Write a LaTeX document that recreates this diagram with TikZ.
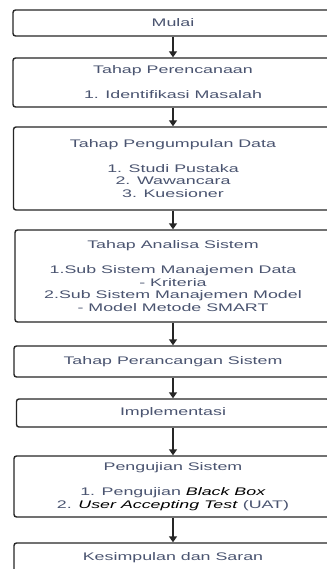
\documentclass[tikz,border=0pt]{standalone}
\usepackage{fontspec}
\usepackage{xcolor}
\usepackage{tikz}
\usetikzlibrary{arrows.meta}
\newfontfamily\boxfont[FakeStretch=1.62]{Liberation Sans}
\definecolor{teks}{HTML}{4A5470}

\begin{document}
\begin{tikzpicture}[x=1pt,y=-1pt,
tahap/.style={draw=black!85,line width=1.4pt,rounded corners=2.5pt,fill=white,align=center,
 inner sep=0pt,font=\boxfont\fontsize{11}{12.4}\selectfont,text=teks},
panah/.style={-{Triangle[width=8pt,length=6pt]},line width=1.4pt,black!85}]
\useasboundingbox (0,0) rectangle (326,569);
\node[tahap,minimum width=320,minimum height=26](mulai) at (173,23){Mulai};
\node[tahap,minimum width=320,minimum height=49](rencana) at (173,82.5){Tahap Perencanaan\\[12.6pt]
1. Identifikasi Masalah};
\node[tahap,minimum width=319,minimum height=83](kumpul) at (173,168.5){Tahap Pengumpulan Data\\[12.6pt]
1. Studi Pustaka\\2. Wawancara\\3. Kuesioner};
\node[tahap,minimum width=316,minimum height=92](analisa) at (173,276){Tahap Analisa Sistem\\[12.6pt]
1.Sub Sistem Manajemen Data\\- Kriteria\\2.Sub Sistem Manajemen Model\\- Model Metode SMART};
\node[tahap,minimum width=318,minimum height=31](rancang) at (173,361.5){Tahap Perancangan Sistem};
\node[tahap,minimum width=313,minimum height=28](implementasi) at (173,413){Implementasi};
\node[tahap,minimum width=318,minimum height=61](uji) at (173,486.5){Pengujian Sistem\\[12.6pt]
1. Pengujian \textcolor{black}{\textit{Black Box}}\\2. \textcolor{black}{\textit{User Accepting Test}} (UAT)};
\node[tahap,minimum width=318,minimum height=30](simpulan) at (173,558){Kesimpulan dan Saran};
% panah antar tahap
\draw[panah](mulai)--(rencana);
\draw[panah](rencana)--(kumpul);
\draw[panah](kumpul)--(analisa);
\draw[panah](analisa)--(rancang);
\draw[panah](rancang)--(implementasi);
\draw[panah](implementasi)--(uji);
\draw[panah](uji)--(simpulan);
\end{tikzpicture}
\end{document}
